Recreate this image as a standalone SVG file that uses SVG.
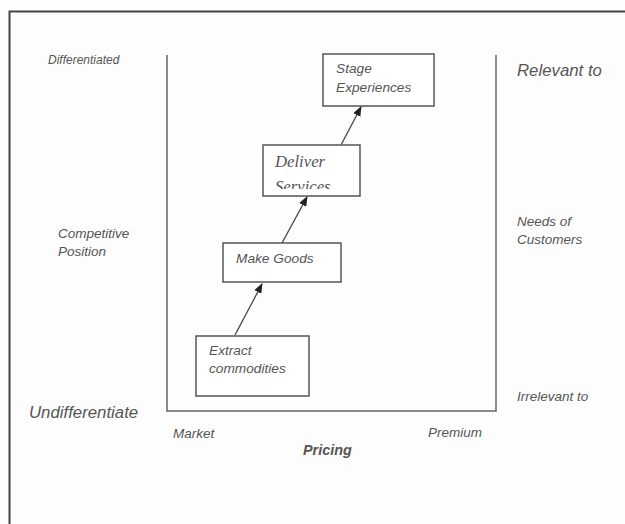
<svg xmlns="http://www.w3.org/2000/svg" width="625" height="524" viewBox="0 0 625 524">
<style>
.t{font-family:"Liberation Sans",Arial,sans-serif;font-style:italic;fill:#555;}
.s{font-size:13.5px;}
.m{font-size:13.7px;}
.l{font-size:16.8px;}
.box{fill:#fff;stroke:#555;stroke-width:1.5;}
.ax{fill:none;stroke:#666;stroke-width:1.5;}
.c{stroke:#444;stroke-width:1.3;fill:none;marker-end:url(#ah);}
</style>
<defs>
<marker id="ah" markerWidth="10" markerHeight="8" refX="9" refY="4" orient="auto" markerUnits="userSpaceOnUse">
<path d="M0,0 L10,4 L0,8 z" fill="#222"/>
</marker>
<clipPath id="dc"><rect x="263" y="145" width="97" height="44"/></clipPath>
</defs>
<rect x="0" y="0" width="625" height="524" fill="#fdfdfd"/>
<path d="M9.5,524 V11.5 H625" fill="none" stroke="#444" stroke-width="2"/>
<path class="ax" d="M167,55 V411 H496 V55"/>
<g id="labels">
<text class="t" font-size="12" x="48" y="64">Differentiated</text>
<text class="t s" x="58" y="238">Competitive</text>
<text class="t s" x="58" y="256">Position</text>
<text class="t l" x="29" y="418">Undifferentiate</text>
<text class="t l" x="517" y="76">Relevant to</text>
<text class="t s" x="517" y="226">Needs of</text>
<text class="t s" x="517" y="244">Customers</text>
<text class="t s" x="517" y="401">Irrelevant to</text>
<text class="t s" x="173" y="438">Market</text>
<text class="t s" x="428" y="437">Premium</text>
<text class="t" font-size="14.4" x="303" y="455" font-weight="bold">Pricing</text>
</g>
<g id="connectors">
<line class="c" x1="235" y1="335" x2="262" y2="284"/>
<line class="c" x1="282" y1="243" x2="307" y2="197"/>
<line class="c" x1="341" y1="145" x2="361" y2="107"/>
</g>
<g id="stage">
<rect class="box" x="323" y="54" width="111" height="52"/>
<text class="t m" x="336" y="73">Stage</text>
<text class="t m" x="336" y="92">Experiences</text>
</g>
<g id="deliver">
<rect class="box" x="263" y="145" width="97" height="51"/>
<g clip-path="url(#dc)">
<text x="275" y="167" font-family="'Liberation Serif','Times New Roman',serif" font-style="italic" font-size="16.7" fill="#555">Deliver</text>
<text x="275" y="192" font-family="'Liberation Serif','Times New Roman',serif" font-style="italic" font-size="16.7" fill="#555">Services</text>
</g>
</g>
<g id="make">
<rect class="box" x="223" y="243" width="118" height="39"/>
<text class="t m" x="236" y="263">Make Goods</text>
</g>
<g id="extract">
<rect class="box" x="196" y="336" width="113" height="60"/>
<text class="t m" x="209" y="355">Extract</text>
<text class="t m" x="209" y="373">commodities</text>
</g>
</svg>
